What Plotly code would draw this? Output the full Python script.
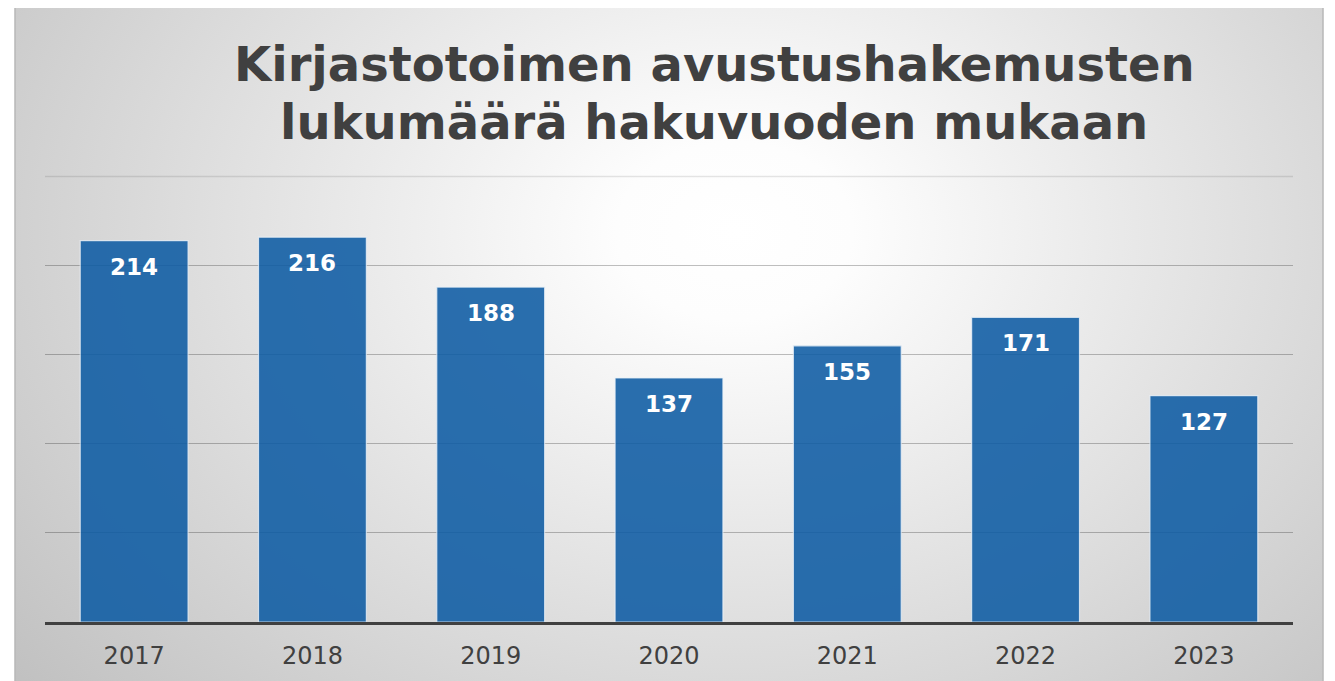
import base64
import plotly.graph_objects as go

years = ["2017", "2018", "2019", "2020", "2021", "2022", "2023"]
counts = [214, 216, 188, 137, 155, 171, 127]
y_ticks = [0, 50, 100, 150, 200, 250]
title_lines = ["Kirjastotoimen avustushakemusten", "lukumäärä hakuvuoden mukaan"]

OFF = 8  # browser body margin
W, H = 1335, 681
y_max = 252
pw = 1248
ph = 445 * y_max / 250
L = 45 - OFF
T = 622 - ph - OFF
R, B = W - L - pw, H - T - ph


def px_x(px):  # page px -> paper x
    return (px - OFF - L) / pw


def px_y(py):  # page px -> paper y
    return (T + ph - (py - OFF)) / ph


svg = (
    '<svg xmlns="http://www.w3.org/2000/svg" width="1308" height="674" viewBox="0 0 1308 674" preserveAspectRatio="none">'
    '<defs><radialGradient id="g" cx="0.55" cy="0.33" r="0.75" gradientUnits="objectBoundingBox" '
    'gradientTransform="translate(0.55 0.33) scale(1 1.45) translate(-0.55 -0.33)">'
    '<stop offset="0" stop-color="#ffffff"/><stop offset="0.12" stop-color="#fdfdfd"/>'
    '<stop offset="1" stop-color="#bdbdbd"/></radialGradient></defs>'
    '<rect width="1308" height="674" fill="url(#g)"/></svg>'
)
uri = "data:image/svg+xml;base64," + base64.b64encode(svg.encode()).decode()

fig = go.Figure()
fig.add_trace(go.Bar(
    x=years, y=counts,
    marker=dict(color="rgb(14,92,164)", opacity=0.88,
                line=dict(color="rgba(235,242,250,0.8)", width=1.2)),
    width=0.605,
    hoverinfo="x+y",
))

for i, v in enumerate(counts):
    fig.add_annotation(x=i, y=v, xref="x", yref="y", text=str(v), showarrow=False,
                       yanchor="middle", yshift=-26,
                       font=dict(family="DejaVu Sans", size=23, color="white", weight="bold"))

for line, cy in zip(title_lines, [64.5, 122.5]):
    fig.add_annotation(x=px_x(714), y=px_y(cy), xref="paper", yref="paper",
                       text=line, showarrow=False, xanchor="center", yanchor="middle",
                       font=dict(family="DejaVu Sans", size=48, color="#404040", weight="bold"))

# top gridline (lighter than the others in the reference)
fig.add_shape(type="line", xref="paper", yref="y", x0=0, x1=1,
              y0=y_ticks[-1], y1=y_ticks[-1],
              line=dict(color="rgba(0,0,0,0.1)", width=1.5), layer="below")

x0 = px_x(15)
y_top = px_y(7)
fig.add_layout_image(dict(
    source=uri, xref="paper", yref="paper",
    x=x0, y=y_top, sizex=1308 / pw, sizey=680 / ph,
    xanchor="left", yanchor="top", sizing="stretch", layer="below",
))
fig.add_shape(type="rect", xref="paper", yref="paper",
              x0=x0, x1=x0 + 1308 / pw, y0=y_top - 690 / ph, y1=y_top,
              line=dict(color="#b8b8b8", width=1.5), fillcolor="rgba(0,0,0,0)", layer="above")

fig.update_layout(
    width=W, height=H,
    margin=dict(l=L, r=R, t=T, b=B, pad=0, autoexpand=False),
    paper_bgcolor="white",
    plot_bgcolor="rgba(0,0,0,0)",
    showlegend=False,
    bargap=0.4,
)
fig.update_xaxes(
    type="category", range=[-0.5, len(years) - 0.5], automargin=False,
    showgrid=False, showline=True, linecolor="#404040", linewidth=3,
    ticks="outside", ticklen=10, tickcolor="rgba(0,0,0,0)",
    tickfont=dict(family="DejaVu Sans", size=24, color="#404040"),
    fixedrange=True,
)
fig.update_yaxes(
    range=[0, y_max], tickvals=y_ticks[:-1], showticklabels=False, automargin=False,
    showgrid=True, gridcolor="rgba(0,0,0,0.25)", gridwidth=1.3,
    zeroline=False, showline=False, fixedrange=True,
)

fig.write_html("out.html", config={"displayModeBar": False})
